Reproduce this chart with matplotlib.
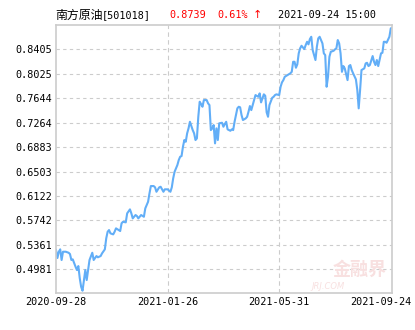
import matplotlib
matplotlib.use("Agg")
import matplotlib.pyplot as plt
import matplotlib.transforms as mtransforms

plt.rcParams['font.family'] = ['DejaVu Sans Mono', 'Noto Sans CJK SC']

# =========================================================
# DATOS (índice de día hábil, valor liquidativo)
# =========================================================

dias = [0, 1, 2, 3, 4, 5, 7, 9, 10, 11, 12, 14, 15, 16, 17, 18, 19, 20, 21, 22,
        23, 24, 26, 27, 29, 30, 32, 33, 35, 36, 37, 38, 39, 41, 42, 43, 45, 46, 47, 48,
        50, 51, 53, 54, 55, 57, 58, 59, 61, 63, 64, 66, 67, 68, 70, 71, 72, 74, 75, 77,
        78, 80, 82, 83, 84, 85, 87, 88, 89, 90, 91, 92, 93, 94, 95, 96, 98, 99, 100, 101,
        102, 103, 104, 105, 106, 108, 109, 110, 111, 112, 113, 114, 115, 116, 117, 119, 120, 121, 122, 123,
        125, 126, 127, 128, 130, 131, 132, 133, 134, 136, 137, 138, 139, 140, 142, 143, 145, 146, 147, 149,
        150, 151, 152, 153, 155, 156, 157, 158, 160, 161, 162, 163, 164, 166, 168, 169, 170, 171, 172, 173,
        174, 175, 176, 178, 179, 180, 181, 182, 183, 184, 186, 187, 188, 189, 191, 192, 193, 194, 195, 196,
        197, 199, 200, 201, 202, 203, 204, 205, 206, 207, 209, 210, 211, 212, 213, 215, 216, 217, 218, 219,
        221, 222, 223, 224, 225, 227, 228, 229, 230, 231, 233, 234, 235, 236, 237, 239, 240, 241]

valores = [0.5282, 0.5158, 0.5256, 0.5293, 0.5127, 0.5256, 0.5256, 0.5240, 0.5220, 0.5127,
           0.5137, 0.5022, 0.4971, 0.5033, 0.4846, 0.4711, 0.4649, 0.4815, 0.4971, 0.4815,
           0.4971, 0.5127, 0.5240, 0.5127, 0.5189, 0.5169, 0.5189, 0.5231, 0.5293, 0.5464,
           0.5567, 0.5593, 0.5542, 0.5526, 0.5567, 0.5620, 0.5593, 0.5578, 0.5698, 0.5722,
           0.5713, 0.5853, 0.5915, 0.5853, 0.5775, 0.5827, 0.5811, 0.5775, 0.5827, 0.5800,
           0.5931, 0.6034, 0.6164, 0.6278, 0.6278, 0.6258, 0.6189, 0.6258, 0.6267, 0.6189,
           0.6227, 0.6227, 0.6189, 0.6258, 0.6398, 0.6500, 0.6605, 0.6683, 0.6734, 0.6745,
           0.6889, 0.6994, 0.6967, 0.7098, 0.7176, 0.7278, 0.7149, 0.7098, 0.6994, 0.7020,
           0.7356, 0.7590, 0.7554, 0.7512, 0.7616, 0.7616, 0.7565, 0.7538, 0.7149, 0.7176,
           0.7227, 0.6942, 0.7176, 0.6994, 0.7254, 0.7263, 0.7201, 0.7243, 0.7278, 0.7160,
           0.7138, 0.7160, 0.7149, 0.7278, 0.7487, 0.7512, 0.7503, 0.7383, 0.7305, 0.7331,
           0.7356, 0.7434, 0.7523, 0.7460, 0.7616, 0.7694, 0.7667, 0.7720, 0.7580, 0.7705,
           0.7683, 0.7425, 0.7356, 0.7538, 0.7652, 0.7667, 0.7694, 0.7705, 0.7694, 0.7823,
           0.7892, 0.7927, 0.7979, 0.8005, 0.8032, 0.8056, 0.8212, 0.8212, 0.8119, 0.8172,
           0.8343, 0.8421, 0.8461, 0.8410, 0.8472, 0.8523, 0.8483, 0.8565, 0.8601, 0.8394,
           0.8239, 0.8445, 0.8576, 0.8601, 0.8498, 0.8343, 0.8316, 0.7823, 0.7979, 0.8290,
           0.8368, 0.8383, 0.8405, 0.8421, 0.8550, 0.8498, 0.8343, 0.8056, 0.8145, 0.8109,
           0.7927, 0.8145, 0.8161, 0.8083, 0.8032, 0.7938, 0.7772, 0.7487, 0.7772, 0.8083,
           0.8109, 0.8187, 0.8196, 0.8145, 0.8161, 0.8301, 0.8212, 0.8161, 0.8239, 0.8145,
           0.8343, 0.8352, 0.8523, 0.8523, 0.8508, 0.8601, 0.8732, 0.8739]

y_ticks = [0.4981, 0.5361, 0.5742, 0.6122, 0.6503, 0.6883, 0.7264, 0.7644, 0.8025, 0.8405]
x_ticks = [0, 80, 160, 241]
x_labels = ["2020-09-28", "2021-01-26", "2021-05-31", "2021-09-24"]

nombre = "南方原油"
codigo = "[501018]"
precio = "0.8739"
cambio = "0.61%"
flecha = "↑"
fecha = "2021-09-24 15:00"

# =========================================================
# GRÁFICA
# =========================================================

fig = plt.figure(figsize=(4.15, 3.3), dpi=100)
ax = fig.add_axes([0.135, 0.112, 0.81, 0.812])

ax.plot(dias, valores, color="#62aef7", linewidth=1.5, solid_joinstyle="round")

ax.set_xlim(0, 241)
ax.set_ylim(0.4613, 0.8783)

ax.set_yticks(y_ticks)
ax.set_yticklabels([f"{v:.4f}" for v in y_ticks])
ax.set_xticks(x_ticks)
ax.set_xticklabels(x_labels)
ax.tick_params(length=0, labelsize=7.3, pad=3, colors="black")

# rejilla horizontal
for v in y_ticks:
    ax.axhline(v, color="#cccccc", linestyle=(0, (3, 3)), linewidth=0.8, zorder=0)
# rejilla vertical solo en las fechas intermedias
for d in x_ticks[1:3]:
    ax.axvline(d, color="#cccccc", linestyle=(0, (4, 3)), linewidth=0.8, zorder=0)

for s in ax.spines.values():
    s.set_color("#cccccc")
    s.set_linewidth(1.2)

# última etiqueta desplazada a la izquierda
etiqueta = ax.get_xticklabels()[-1]
etiqueta.set_transform(etiqueta.get_transform() +
                       mtransforms.ScaledTranslation(-0.11, 0, fig.dpi_scale_trans))

# marca de agua
ax.text(0.985, 0.09, "金融界", transform=ax.transAxes, ha="right", va="center",
        fontsize=13, color="#f8e0e0", fontweight="bold", zorder=0,
        family=["Noto Sans CJK SC"])
ax.text(0.86, 0.025, "JRJ.COM", transform=ax.transAxes, ha="right", va="center",
        fontsize=6, color="#f8e0e0", fontstyle="italic", zorder=0,
        family=["DejaVu Sans"])

# encabezado
yt = 1 - 15 / 330
fig.text(55 / 415, yt, nombre, fontsize=8.6, va="center", ha="left", color="black",
         family=["Noto Sans CJK SC"])
fig.text(102 / 415, yt, codigo, fontsize=7.3, va="center", ha="left", color="black")
fig.text(169 / 415, yt, precio, fontsize=7.3, va="center", ha="left", color="red")
fig.text(217 / 415, yt, cambio, fontsize=7.3, va="center", ha="left", color="red")
fig.text(257 / 415, yt, flecha, fontsize=8, va="center", ha="center", color="red",
         family=["DejaVu Sans"])
fig.text(278 / 415, yt, fecha, fontsize=7.3, va="center", ha="left", color="black")

fig.savefig("out.png", dpi=100)
